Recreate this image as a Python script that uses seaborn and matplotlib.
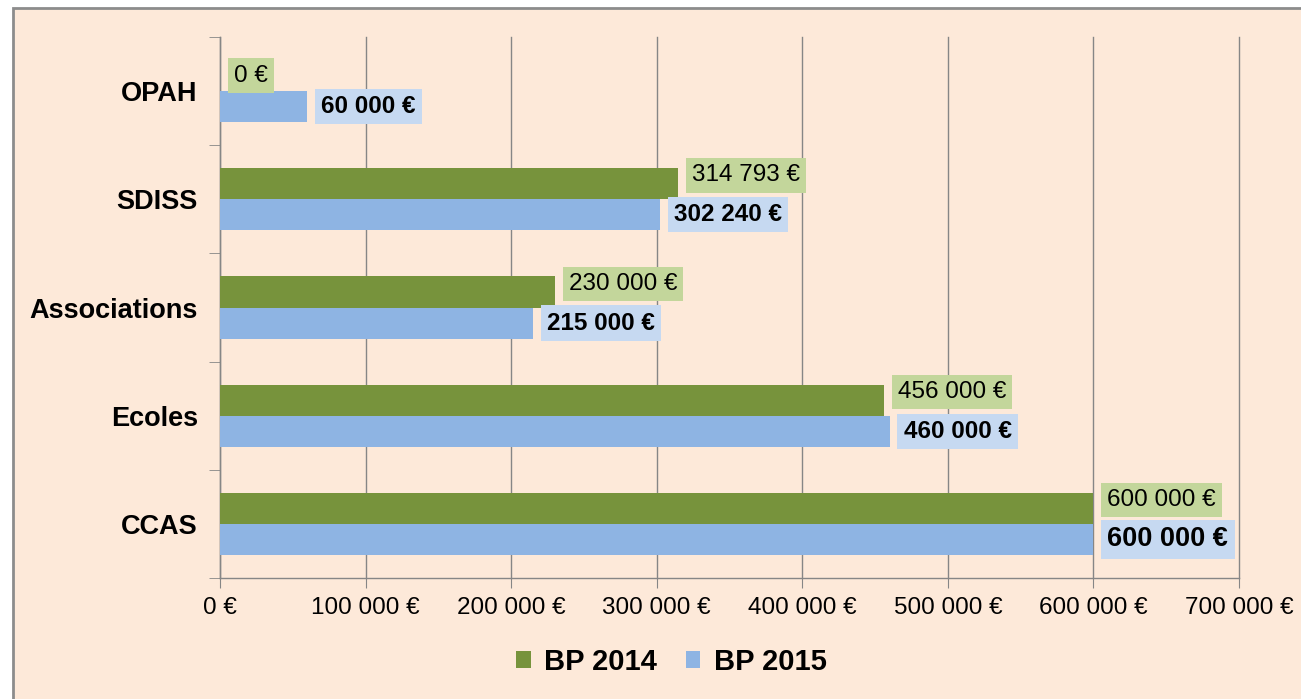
import pandas as pd
import matplotlib.pyplot as plt
import seaborn as sns
from matplotlib.patches import Rectangle
from matplotlib.ticker import FuncFormatter, FixedLocator

# données
categories = ['OPAH', 'SDISS', 'Associations', 'Ecoles', 'CCAS']
bp2014 = [0, 314793, 230000, 456000, 600000]
bp2015 = [60000, 302240, 215000, 460000, 600000]
series = ['BP 2014', 'BP 2015']

df = pd.DataFrame({
    'cat': categories * 2,
    'value': bp2014 + bp2015,
    'year': [series[0]] * len(categories) + [series[1]] * len(categories),
})

plt.rcParams['font.family'] = ['Liberation Sans', 'DejaVu Sans']

bg = '#FDE9D9'
green, blue = '#77933C', '#8EB4E3'
green_lt, blue_lt = '#C3D69B', '#C6D9F1'
grey = '#868686'

def euro(v):
    return f"{int(v):,} €".replace(',', ' ')

fig = plt.figure(figsize=(13.01, 6.99), dpi=100)
fig.patch.set_facecolor('white')
fig.patches.append(Rectangle((13 / 1301, -0.2), 1.2, 1.2 - 8 / 699,
                             transform=fig.transFigure, facecolor=bg,
                             edgecolor='#8C8C8C', linewidth=2, zorder=-10))

ax = fig.add_axes([220 / 1301, 1 - 578 / 699, (1239 - 220) / 1301, (578 - 37) / 699])
ax.set_facecolor('none')

sns.barplot(data=df, x='value', y='cat', hue='year', orient='h',
            palette=[green, blue], width=0.574, saturation=1,
            errorbar=None, ax=ax, zorder=3)

ax.set_xlim(0, 700000)
ax.set_ylim(4.5, -0.5)
ax.set_xlabel('')
ax.set_ylabel('')

ax.xaxis.set_major_formatter(FuncFormatter(lambda v, p: euro(v)))
ax.set_xticks(range(0, 700001, 100000))
ax.grid(axis='x', color=grey, linewidth=1, zorder=0)
for gl in ax.get_xgridlines():
    gl.set_clip_on(False)
ax.set_axisbelow(True)
ax.tick_params(axis='x', labelsize=17.5, length=7, color=grey, pad=7)
ax.tick_params(axis='y', which='major', length=0, pad=16)
ax.yaxis.set_minor_locator(FixedLocator([i - 0.5 for i in range(len(categories) + 1)]))
ax.tick_params(axis='y', which='minor', length=8, color=grey)
for t in ax.get_yticklabels():
    t.set_fontsize(19.5)
    t.set_fontweight('bold')

for s in ['top', 'right']:
    ax.spines[s].set_visible(False)
for s in ['left', 'bottom']:
    ax.spines[s].set_color(grey)
    ax.spines[s].set_linewidth(1)

# étiquettes de données
for ci, (cont, vals) in enumerate(zip(ax.containers, [bp2014, bp2015])):
    for i, (patch, v) in enumerate(zip(cont.patches, vals)):
        x = patch.get_width()
        y = patch.get_y() + patch.get_height() / 2
        if ci == 0:
            dy = 6 if v > 0 else 0
            ax.annotate(euro(v), (x, y), xytext=(10, dy), textcoords='offset points',
                        ha='left', va='center', fontsize=17.5, zorder=5,
                        bbox=dict(boxstyle='square,pad=0.25', fc=green_lt, ec='none'))
        else:
            size = 19.5 if i == len(vals) - 1 else 17.5
            ax.annotate(euro(v), (x, y), xytext=(10, 0), textcoords='offset points',
                        ha='left', va='center', fontsize=size, fontweight='bold', zorder=5,
                        bbox=dict(boxstyle='square,pad=0.25', fc=blue_lt, ec='none'))

handles, labels = ax.get_legend_handles_labels()
ax.get_legend().remove()
fig.legend(handles, labels, loc='center', bbox_to_anchor=(0.516, 0.053), ncol=2,
           frameon=False, handlelength=0.5, handleheight=0.5, handletextpad=0.45,
           columnspacing=1.0, prop={'weight': 'bold', 'size': 21})

fig.savefig('out.png', dpi=100, facecolor='white')
